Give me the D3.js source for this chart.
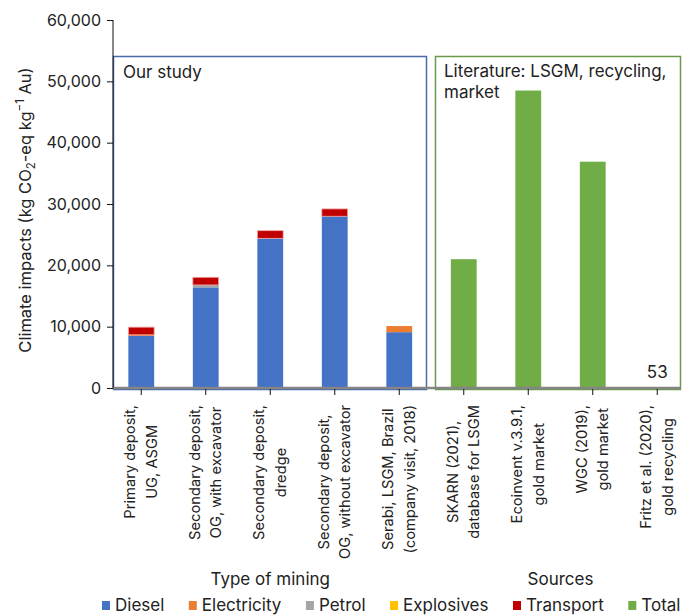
<!DOCTYPE html>
<html>
<head>
<meta charset="utf-8">
<script src="https://cdn.jsdelivr.net/npm/d3@7"></script>
<style>
  body { margin: 0; background: #fff; }
  svg { display: block; font-family: Inter, "Noto Sans", sans-serif; fill: #222; }
</style>
</head>
<body>
<div id="plot"></div>
<script>
// Categories (two label lines each, as in the source chart)
const miningTypes = [
  ["Primary deposit,", "UG, ASGM"],
  ["Secondary deposit,", "OG, with excavator"],
  ["Secondary deposit,", "dredge"],
  ["Secondary deposit,", "OG, without excavator"],
  ["Serabi, LSGM, Brazil", "(company visit, 2018)"]
];
const sources = [
  ["SKARN (2021),", "database for LSGM"],
  ["Ecoinvent v.3.9.1,", "gold market"],
  ["WGC (2019),", "gold market"],
  ["Fritz et al. (2020),", "gold recycling"]
];

// Our study: stacked contributions (kg CO2-eq per kg Au)
const diesel      = [8500, 16400, 24400, 28000, 9100];
const electricity = [170, 0, 0, 0, 1000];
const petrol      = [0, 400, 0, 0, 0];
const explosives  = [0, 0, 0, 0, 0];
const transport   = [1250, 1250, 1250, 1200, 0];

// Literature totals
const totals = [21000, 48500, 36900, 53];

const yTicks = [0, 10000, 20000, 30000, 40000, 50000, 60000];
const seriesNames = ["Diesel", "Electricity", "Petrol", "Explosives", "Transport", "Total"];
const colors = ["#4472c4", "#ed7d31", "#a5a5a5", "#ffc000", "#c00000", "#70ad47"];

const width = 683, height = 615;
const svg = d3.select("#plot").append("svg")
  .attr("width", width)
  .attr("height", height);

const allCats = miningTypes.concat(sources).map((d, i) => i);
const x = d3.scaleBand().domain(allCats).range([109, 689.5]).paddingInner(0.6).paddingOuter(0.3);
const y = d3.scaleLinear().domain([0, 60000]).range([388, 20]);
const color = d3.scaleOrdinal().domain(seriesNames).range(colors);

// panel frames
svg.append("rect")
  .attr("x", 113.5).attr("y", 56.5)
  .attr("width", 313).attr("height", 333)
  .attr("fill", "none").attr("stroke", "#4a6aab").attr("stroke-width", 1.5);
svg.append("rect")
  .attr("x", 435.5).attr("y", 56.5)
  .attr("width", 245).attr("height", 333)
  .attr("fill", "none").attr("stroke", "#6a9a48").attr("stroke-width", 1.5);

// stacked bars for our study
const stackRows = miningTypes.map((d, i) => ({
  cat: i,
  Diesel: diesel[i], Electricity: electricity[i], Petrol: petrol[i],
  Explosives: explosives[i], Transport: transport[i]
}));
const stack = d3.stack().keys(seriesNames.slice(0, 5))(stackRows);

svg.append("g").selectAll("g")
  .data(stack)
  .join("g")
    .attr("fill", d => color(d.key))
    .attr("stroke", d => d.key === "Transport" ? "#f0a8a8" : "none")
    .attr("stroke-width", 0.8)
  .selectAll("rect")
  .data(d => d.filter(v => v[1] > v[0]))
  .join("rect")
    .attr("x", d => x(d.data.cat))
    .attr("width", x.bandwidth())
    .attr("y", d => y(d[1]))
    .attr("height", d => y(d[0]) - y(d[1]));

// literature totals
svg.append("g").selectAll("rect")
  .data(totals)
  .join("rect")
    .attr("fill", color("Total"))
    .attr("x", (d, i) => x(miningTypes.length + i))
    .attr("width", x.bandwidth())
    .attr("y", d => y(d))
    .attr("height", d => Math.max(1, y(0) - y(d)));

// value label for the tiny bar
svg.append("text")
  .attr("x", x(8) + x.bandwidth() / 2)
  .attr("y", 378)
  .attr("text-anchor", "middle")
  .attr("font-size", 17)
  .text(totals[3]);

// baseline
svg.append("line")
  .attr("x1", 113).attr("x2", 681)
  .attr("y1", y(0)).attr("y2", y(0))
  .attr("stroke", "#858585").attr("stroke-width", 2.5);

// y axis
const yAxis = svg.append("g")
  .attr("transform", "translate(113,0)")
  .call(d3.axisLeft(y).tickValues(yTicks).tickSize(6).tickPadding(6).tickFormat(d3.format(",")));
yAxis.select(".domain").attr("d", `M0,${y(60000)}V${y(0)}`).attr("stroke", "#111");
yAxis.selectAll(".tick line").attr("stroke", "#111");
yAxis.selectAll("text").attr("font-size", 16).attr("font-family", "Inter").attr("fill", "#222");

// x ticks
svg.append("g").selectAll("line")
  .data(allCats)
  .join("line")
    .attr("x1", d => x(d) + x.bandwidth() / 2)
    .attr("x2", d => x(d) + x.bandwidth() / 2)
    .attr("y1", 389).attr("y2", 395)
    .attr("stroke", "#111");

// category labels, rotated, lines centred on each other, block top-aligned
const labelGroups = svg.append("g").selectAll("g")
  .data(miningTypes.concat(sources))
  .join("g")
    .attr("transform", (d, i) => `translate(${x(i) + x.bandwidth() / 2},405) rotate(-90)`);
labelGroups.each(function(lines) {
  const g = d3.select(this);
  const texts = lines.map((t, j) => g.append("text")
    .attr("y", j === 0 ? -6 : 15.5)
    .attr("text-anchor", "middle")
    .attr("font-size", 14.7)
    .text(t));
  const maxW = d3.max(texts, t => t.node().getComputedTextLength());
  texts.forEach(t => t.attr("x", -maxW / 2));
});

// panel titles
svg.append("text").attr("x", 123).attr("y", 78).attr("font-size", 17).text("Our study");
svg.append("text").attr("x", 444).attr("y", 77).attr("font-size", 17).text("Literature: LSGM, recycling,");
svg.append("text").attr("x", 444).attr("y", 98).attr("font-size", 17).text("market");

// axis titles
svg.append("text")
  .attr("x", (x(0) + x(4) + x.bandwidth()) / 2).attr("y", 585)
  .attr("text-anchor", "middle").attr("font-size", 17)
  .text("Type of mining");
svg.append("text")
  .attr("x", (x(5) + x(8) + x.bandwidth()) / 2).attr("y", 585)
  .attr("text-anchor", "middle").attr("font-size", 17)
  .text("Sources");

const yTitle = svg.append("text")
  .attr("transform", "translate(31,210) rotate(-90)")
  .attr("text-anchor", "middle")
  .attr("font-size", 16.5);
yTitle.append("tspan").text("Climate impacts (kg CO");
yTitle.append("tspan").attr("font-size", 11.5).attr("dy", 4).text("2");
yTitle.append("tspan").attr("dy", -4).text("-eq kg");
yTitle.append("tspan").attr("font-size", 11.5).attr("dy", -7).text("\u22121");
yTitle.append("tspan").attr("dy", 7).text(" Au)");

// legend
const legend = svg.append("g").attr("transform", "translate(102,0)");
let lx = 0;
seriesNames.forEach((name, i) => {
  legend.append("rect")
    .attr("x", lx).attr("y", 601)
    .attr("width", 8).attr("height", 9)
    .attr("fill", colors[i]);
  const t = legend.append("text")
    .attr("x", lx + 13).attr("y", 610.5)
    .attr("font-size", 17)
    .text(name);
  lx += 13 + t.node().getComputedTextLength() + 24.5;
});
</script>
</body>
</html>
